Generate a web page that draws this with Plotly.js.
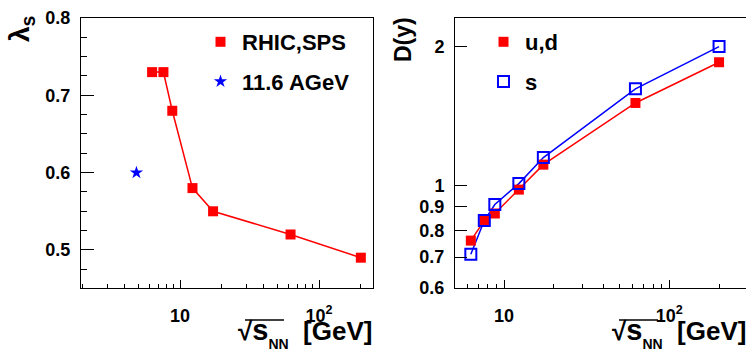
<!DOCTYPE html>
<html>
<head>
<meta charset="utf-8">
<script src="https://cdn.plot.ly/plotly-3.0.1.min.js"></script>
<style>html,body{margin:0;padding:0;background:#fff;}#chart{width:746px;height:356px;}</style>
</head>
<body>
<div id="chart"></div>
<script>
// ---- Data ----
const sqrtS_rhicsps = [6.3, 7.6, 8.8, 12.3, 17.3, 62.4, 200];
const lambdaS_rhicsps = [0.73, 0.73, 0.68, 0.58, 0.55, 0.52, 0.49];
const sqrtS_ags = [4.86];
const lambdaS_ags = [0.60];

const sqrtS_D = [6.3, 7.6, 8.8, 12.3, 17.3, 62.4, 200];
const D_ud = [0.76, 0.84, 0.87, 0.98, 1.11, 1.51, 1.85];
const D_s = [0.71, 0.84, 0.91, 1.01, 1.15, 1.62, 2.00];

const xTickVals = [10, 100];
const xTickText = ['10', '10<sup>2</sup>'];
const xMinorVals = [2,3,4,5,6,7,8,9,20,30,40,50,60,70,80,90,200,300];
const yLeftTickVals = [0.5, 0.6, 0.7, 0.8];
const yLeftTickText = ['0.5', '0.6', '0.7', '0.8'];
const yRightTickVals = [0.6, 0.7, 0.8, 0.9, 1, 2];
const yRightTickText = ['0.6', '0.7', '0.8', '0.9', '1', '2'];

const RED = '#ff0000', BLUE = '#0000ff';
const FONT = 'Liberation Sans, Arial, sans-serif';
const tickFont = {family: FONT, size: 18, color: '#000', weight: 'bold'};

const traces = [
  {x: sqrtS_rhicsps, y: lambdaS_rhicsps, mode: 'lines', line: {color: RED, width: 1.5},
   xaxis: 'x', yaxis: 'y', showlegend: false, hoverinfo: 'skip'},
  {x: sqrtS_rhicsps, y: lambdaS_rhicsps, mode: 'markers', name: 'RHIC,SPS',
   marker: {symbol: 'square', size: 10, color: RED}, xaxis: 'x', yaxis: 'y',
   legend: 'legend', legendgroup: 'a'},
  {x: sqrtS_ags, y: lambdaS_ags, mode: 'markers', name: '11.6 AGeV',
   marker: {symbol: 'star', size: 10, color: BLUE}, xaxis: 'x', yaxis: 'y',
   legend: 'legend', legendgroup: 'b'},
  {x: sqrtS_D, y: D_ud, mode: 'lines', line: {color: RED, width: 1.5},
   xaxis: 'x2', yaxis: 'y2', showlegend: false, hoverinfo: 'skip'},
  {x: sqrtS_D, y: D_s, mode: 'lines', line: {color: BLUE, width: 1.5},
   xaxis: 'x2', yaxis: 'y2', showlegend: false, hoverinfo: 'skip'},
  {x: sqrtS_D, y: D_ud, mode: 'markers', name: 'u,d',
   marker: {symbol: 'square', size: 10, color: RED}, xaxis: 'x2', yaxis: 'y2',
   legend: 'legend2', legendgroup: 'c'},
  {x: sqrtS_D, y: D_s, mode: 'markers', name: 's',
   marker: {symbol: 'square-open', size: 11, color: BLUE, line: {width: 2, color: BLUE}},
   xaxis: 'x2', yaxis: 'y2', legend: 'legend2', legendgroup: 'd'}
];

const H = 356, W = 746;
const yDom = [1 - 288 / H, 1 - 18 / H];

function xAxis(domain, range) {
  return {
    type: 'log', domain: domain, range: range, showgrid: false, zeroline: false,
    showline: true, linecolor: '#000', linewidth: 1, mirror: true,
    ticks: 'inside', ticklen: 8, tickwidth: 1, tickcolor: '#000',
    tickmode: 'array', tickvals: xTickVals, ticktext: xTickText,
    tickfont: tickFont, ticklabelstandoff: 11,
    minor: {tickmode: 'array', tickvals: xMinorVals, ticks: 'inside', ticklen: 4, tickcolor: '#000', tickwidth: 1, showgrid: false}
  };
}

const legendFont = {family: FONT, size: 22, color: '#000', weight: 'bold'};
const titleText = '√<span style="font-size:29px">s</span><sub><span style="font-size:14px;baseline-shift:-4px">NN</span></sub>&nbsp;&nbsp;[GeV]';

const layout = {
  width: W, height: H,
  margin: {l: 0, r: 0, t: 0, b: 0},
  paper_bgcolor: '#fff', plot_bgcolor: '#fff',
  showlegend: true,
  xaxis: Object.assign(xAxis([81 / W, 373 / W], [0.2878, 2.3885]), {anchor: 'y'}),
  yaxis: {
    domain: yDom, range: [0.4508, 0.8], anchor: 'x', showgrid: false, zeroline: false,
    showline: true, linecolor: '#000', linewidth: 1, mirror: true,
    ticks: 'inside', ticklen: 13, tickwidth: 1, tickcolor: '#000',
    tickmode: 'array', tickvals: yLeftTickVals, ticktext: yLeftTickText,
    tickfont: tickFont, ticklabelstandoff: 6,
    minor: {dtick: 0.025, tick0: 0, ticks: 'inside', ticklen: 6, tickcolor: '#000', tickwidth: 1, showgrid: false}
  },
  xaxis2: Object.assign(xAxis([455 / W, 1], [0.7036, 2.464]), {anchor: 'y2'}),
  yaxis2: {
    type: 'log', domain: yDom, range: [Math.log10(0.6), 0.363], anchor: 'x2', showgrid: false, zeroline: false,
    showline: true, linecolor: '#000', linewidth: 1, mirror: false,
    ticks: 'inside', ticklen: 12, tickwidth: 1, tickcolor: '#000',
    tickmode: 'array', tickvals: yRightTickVals, ticktext: yRightTickText,
    tickfont: tickFont, ticklabelstandoff: 6
  },
  legend: {
    x: 199 / W, y: 1 - 21 / H, xanchor: 'left', yanchor: 'top', itemwidth: 33,
    bgcolor: 'rgba(0,0,0,0)', borderwidth: 0, traceorder: 'grouped', tracegroupgap: 8,
    font: legendFont
  },
  legend2: {
    x: 482 / W, y: 1 - 21 / H, xanchor: 'left', yanchor: 'top', itemwidth: 33,
    bgcolor: 'rgba(0,0,0,0)', borderwidth: 0, traceorder: 'grouped', tracegroupgap: 8,
    font: legendFont
  },
  shapes: [
    {type: 'line', xref: 'paper', yref: 'paper', x0: 245 / W, x1: 284 / W, y0: 1 - 320 / H, y1: 1 - 320 / H,
     line: {color: '#000', width: 1.5}},
    {type: 'line', xref: 'paper', yref: 'paper', x0: 619 / W, x1: 658 / W, y0: 1 - 320 / H, y1: 1 - 320 / H,
     line: {color: '#000', width: 1.5}}
  ],
  annotations: [
    {xref: 'paper', yref: 'paper', x: 21 / W, y: 1 - 29 / H, xanchor: 'center', yanchor: 'middle',
     text: 'λ<sub>s</sub>', textangle: -90, showarrow: false,
     font: {family: FONT, size: 28, color: '#000', weight: 'bold'}},
    {xref: 'paper', yref: 'paper', x: 403 / W, y: 1 - 40 / H, xanchor: 'center', yanchor: 'middle',
     text: 'D(y)', textangle: -90, showarrow: false,
     font: {family: FONT, size: 23, color: '#000', weight: 'bold'}},
    {xref: 'paper', yref: 'paper', x: 374 / W, y: 0, xanchor: 'right', yanchor: 'bottom', yshift: 2,
     text: titleText, showarrow: false,
     font: {family: FONT, size: 26, color: '#000', weight: 'bold'}},
    {xref: 'paper', yref: 'paper', x: 748 / W, y: 0, xanchor: 'right', yanchor: 'bottom', yshift: 2,
     text: titleText, showarrow: false,
     font: {family: FONT, size: 26, color: '#000', weight: 'bold'}}
  ]
};

Plotly.newPlot('chart', traces, layout, {displayModeBar: false, staticPlot: true});
</script>
</body>
</html>
